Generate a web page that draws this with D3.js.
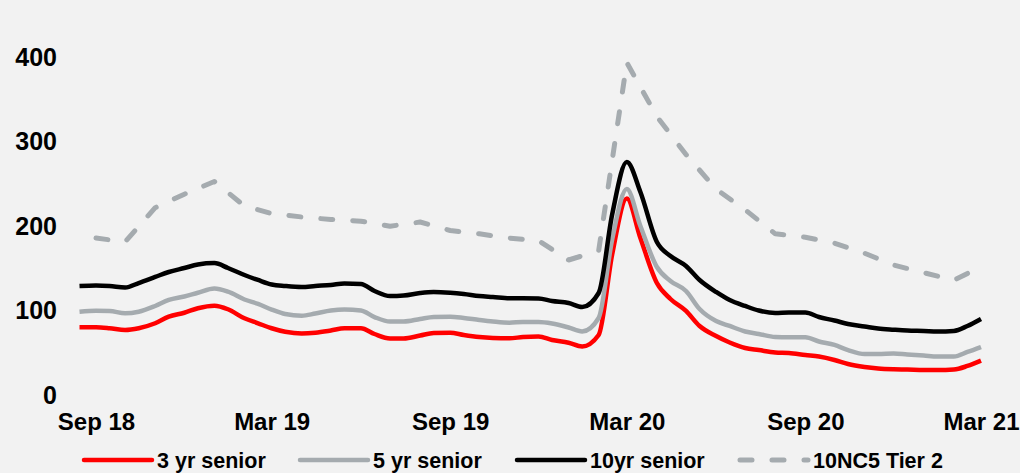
<!DOCTYPE html>
<html>
<head>
<meta charset="utf-8">
<script src="https://cdn.jsdelivr.net/npm/d3@7"></script>
<style>
  html, body { margin: 0; padding: 0; background: #f2f2f2; }
  svg { display: block; }
  text { font-family: "Liberation Sans", Arial, sans-serif; font-weight: bold; fill: #000; }
</style>
</head>
<body>
<svg id="chart" width="1020" height="473"></svg>
<script>
// ---- data ----
const solidDates = [
  "2018-08-15","2018-09-01","2018-09-15","2018-10-01","2018-10-15","2018-11-01","2018-11-15","2018-12-01","2018-12-15",
  "2019-01-01","2019-01-15","2019-02-01","2019-02-15","2019-03-01","2019-03-15","2019-04-01","2019-04-15","2019-05-01","2019-05-15",
  "2019-06-01","2019-06-15","2019-07-01","2019-07-15","2019-08-01","2019-08-15","2019-09-01","2019-09-15","2019-10-01","2019-10-15",
  "2019-11-01","2019-11-15","2019-12-01","2019-12-15",
  "2020-01-01","2020-01-15","2020-02-01","2020-02-15","2020-03-01","2020-03-15","2020-04-01","2020-04-15","2020-05-01","2020-05-15",
  "2020-06-01","2020-06-15","2020-07-01","2020-07-15","2020-08-01","2020-08-15","2020-09-01","2020-09-15","2020-10-01","2020-10-15",
  "2020-11-01","2020-11-15","2020-12-01","2020-12-15",
  "2021-01-01","2021-01-15","2021-02-01","2021-02-15","2021-03-01"
];
const senior3yr = [80.2,80.2,79.1,77,79.1,85,92.8,97.5,102.8,105.8,101.6,90.9,85,79.1,75,72.9,73.8,76.4,79.1,79.1,
  72.3,67,67,70.5,73.5,73.8,71.1,68.7,67.6,67.2,68.7,69.3,65.2,62,57.5,71.1,167.1,232.9,186.1,132.7,
  113.8,99.6,81.8,69.9,62.2,55.7,53.3,50.4,49.8,47.4,45.6,41.5,36.7,33.2,31.4,30.5,30.2,29.6,29.6,30.2,34.4,40.7];
const senior5yr = [98.7,99.9,99.6,96.8,98.7,105.5,112.6,116.7,121.2,126.2,122.4,113.2,107.9,101.3,96,94,96.6,100.1,101.3,100.1,
  92.4,87.1,87.1,90.1,92.4,92.8,91.3,88.9,87.1,85.7,86.5,86.5,84.7,80,75.3,91.3,184.9,244.1,200.3,151.7,
  135.1,123.3,101.9,87.7,81.8,75.3,72.3,68.7,68.4,68.4,63.4,59.3,53.3,48.6,48.6,49.2,48,46.8,45.6,45.6,51,56.9];
const senior10yr = [129.2,129.8,129.2,127.4,132.7,139.9,145.8,150.5,154.7,156.4,150.5,142.2,136.3,131,129.2,128,129.2,130.4,132.1,131.6,
  123.3,117.3,117.9,120.9,122.1,121.2,119.7,117.3,116.1,114.6,114.6,114.4,111.4,109,104.3,120.9,214.5,276.1,240.6,181.3,
  164.7,152.9,136.3,122.1,112.6,105.5,100.1,97.2,97.8,97.8,92.4,88.3,84.1,81.2,78.8,77.4,76.4,75.9,75.3,75.9,81.8,90.1];

const tier2Dates = [
  "2018-09-01","2018-10-01","2018-11-01","2018-12-01","2019-01-01","2019-02-01","2019-03-01","2019-04-01","2019-05-01","2019-06-01",
  "2019-07-01","2019-08-01","2019-09-01","2019-10-01","2019-11-01","2019-12-01","2020-01-01","2020-02-01","2020-03-01","2020-04-01",
  "2020-05-01","2020-06-01","2020-07-01","2020-08-01","2020-09-01","2020-10-01","2020-11-01","2020-12-01","2021-01-01","2021-02-01","2021-03-01"
];
const tier2 = [186,181.5,222,238,253,224,215,211,208,206,200,205,195,191,186,183,160,171,394,330,285,244,219.5,191,187,180,168,154,145,136,152];

const xTickDates = ["2018-09-01","2019-03-01","2019-09-01","2020-03-01","2020-09-01","2021-03-01"];
const yTicks = [0,100,200,300,400];
const seriesNames = ["3 yr senior","5 yr senior","10yr senior","10NC5 Tier 2"];

// ---- drawing ----
const parse = d3.timeParse("%Y-%m-%d");
const svg = d3.select("#chart");

const x = d3.scaleTime()
  .domain([parse("2018-09-01"), parse("2021-03-01")])
  .range([96, 981]);
const y = d3.scaleLinear().domain([0, 400]).range([395, 57.5]);

// y axis
const yAxis = svg.append("g")
  .attr("transform", "translate(60,0)")
  .call(d3.axisLeft(y).tickValues(yTicks).tickSize(0).tickPadding(3));
yAxis.select(".domain").remove();
yAxis.selectAll("text").style("font-size", "25px").style("font-family", "'Liberation Sans', Arial, sans-serif").style("font-weight", "bold").attr("fill", "#000");

// x axis
const xAxis = svg.append("g")
  .attr("transform", "translate(0,413)")
  .call(d3.axisBottom(x).tickValues(xTickDates.map(parse)).tickFormat(d3.timeFormat("%b %y")).tickSize(0).tickPadding(0));
xAxis.select(".domain").remove();
xAxis.selectAll("text").style("font-size", "24px").style("font-family", "'Liberation Sans', Arial, sans-serif").style("font-weight", "bold").attr("fill", "#000");

const colors = ["#ff0000", "#a5abaf", "#000000", "#a5abaf"];

const solidLine = d3.line().curve(d3.curveMonotoneX)
  .x((d, i) => x(parse(solidDates[i])))
  .y(d => y(d));
const dashLine = d3.line().curve(d3.curveLinear)
  .x((d, i) => x(parse(tier2Dates[i])))
  .y(d => y(d));

[senior3yr, senior5yr, senior10yr].forEach((s, k) => {
  svg.append("path").datum(s)
    .attr("d", solidLine)
    .attr("fill", "none")
    .attr("stroke", colors[k])
    .attr("stroke-width", 4.5)
    .attr("stroke-linejoin", "round")
    .attr("stroke-linecap", "butt");
});
svg.append("path").datum(tier2)
  .attr("d", dashLine)
  .attr("fill", "none")
  .attr("stroke", colors[3])
  .attr("stroke-width", 5)
  .attr("stroke-dasharray", "12,20")
  .attr("stroke-linecap", "round")
  .attr("stroke-linejoin", "round");

// legend
const legendX = [84, 300, 517, 740];
const legendY = 460;
const leg = svg.append("g");
seriesNames.forEach((name, k) => {
  leg.append("line")
    .attr("x1", legendX[k]).attr("x2", legendX[k] + 68)
    .attr("y1", legendY).attr("y2", legendY)
    .attr("stroke", colors[k])
    .attr("stroke-width", k === 3 ? 5 : 4.5)
    .attr("stroke-linecap", "round")
    .attr("stroke-dasharray", k === 3 ? "12,20" : null);
  leg.append("text")
    .attr("x", legendX[k] + 73)
    .attr("y", legendY + 7.5)
    .style("font-size", "21.5px")
    .text(name);
});
</script>
</body>
</html>
